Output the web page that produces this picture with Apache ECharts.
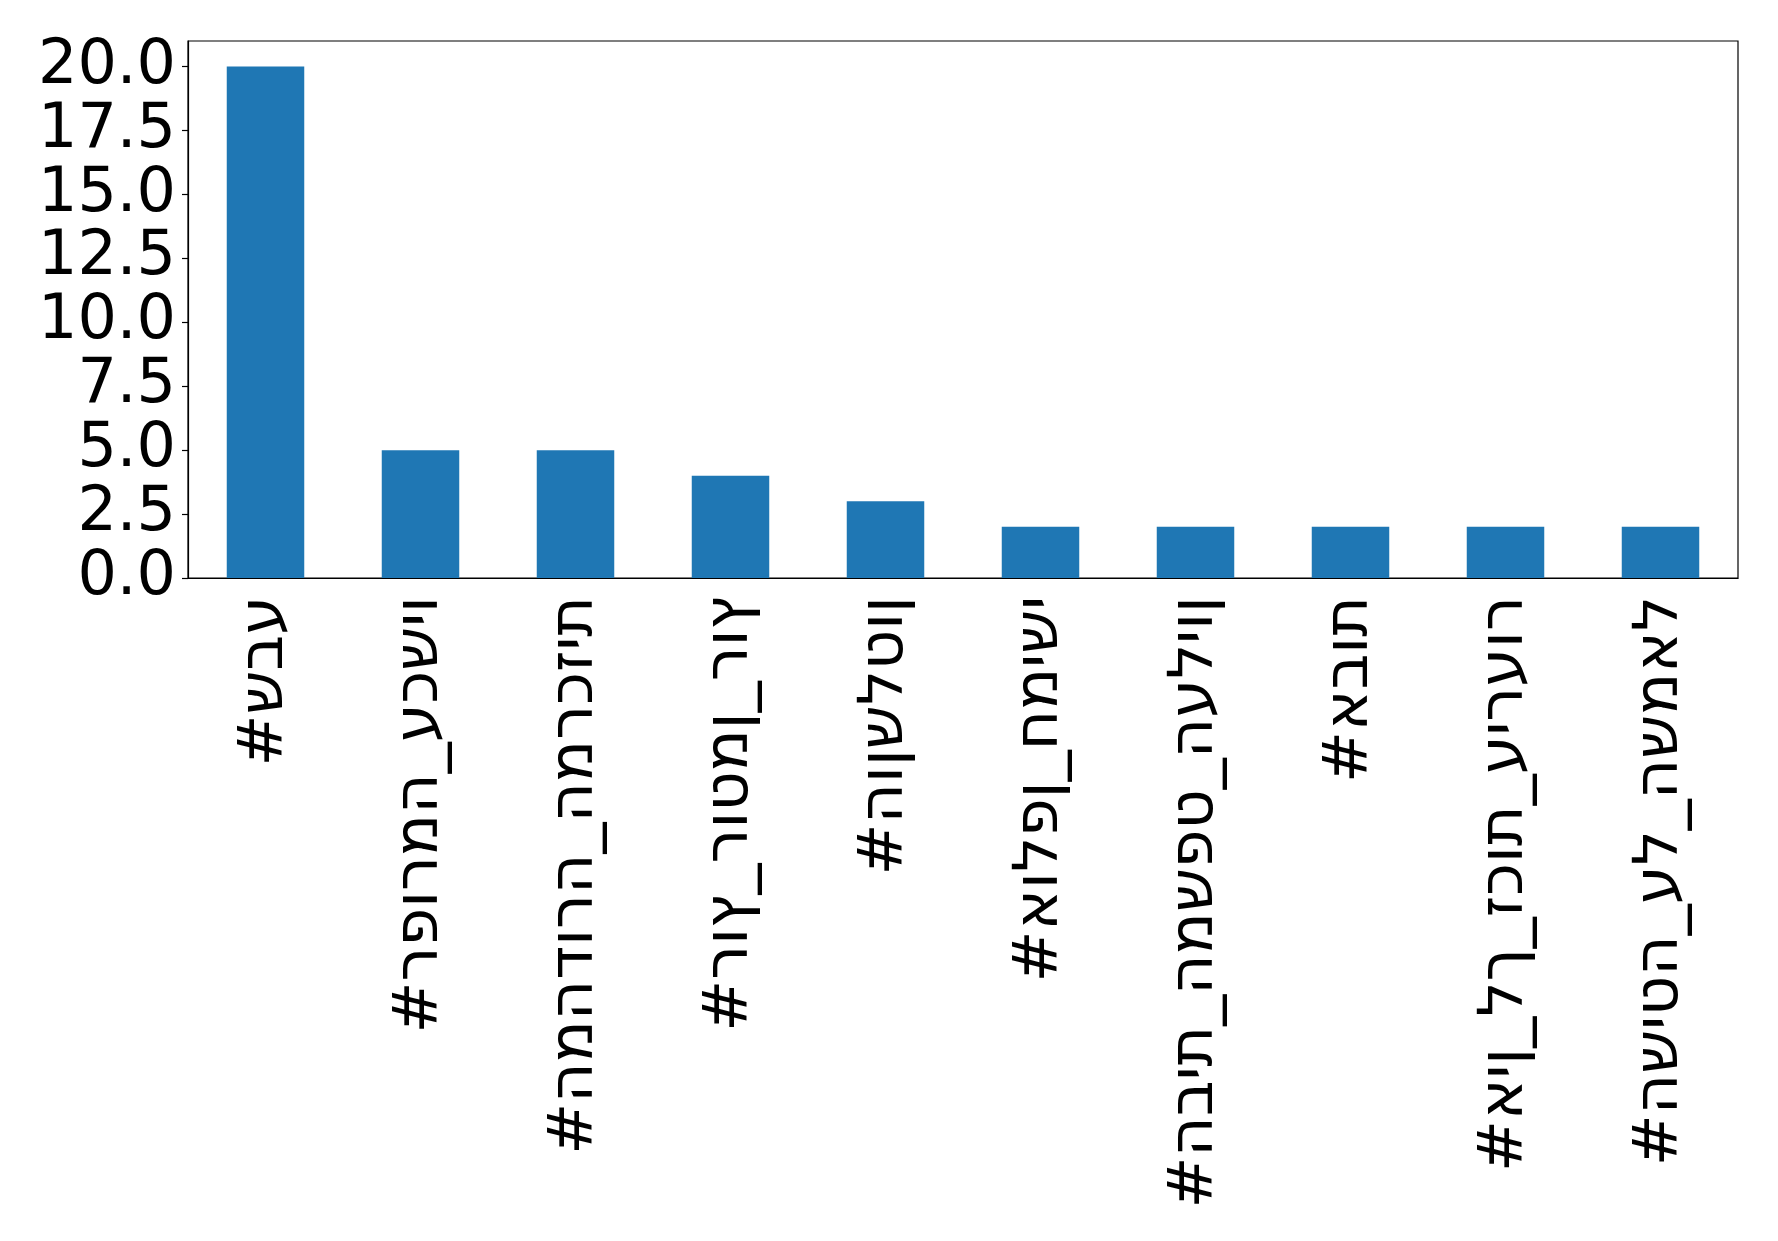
<!DOCTYPE html>
<html>
<head>
<meta charset="utf-8">
<script src="https://cdn.jsdelivr.net/npm/echarts@6/dist/echarts.min.js"></script>
<style>
html,body{margin:0;padding:0;background:#fff;}
#chart{width:1778px;height:1241px;}
</style>
</head>
<body>
<div id="chart"></div>
<script>
// Hashtags (logical order); matplotlib drew them without bidi reordering
const categories = [
  "#שבע",
  "#רפורמה_עכשיו",
  "#המהדורה_המרכזית",
  "#רוץ_רוטמן_רוץ",
  "#הוןשלטון",
  "#אולפן_חמישי",
  "#הבית_המשפט_העליון",
  "#אבות",
  "#אין_לך_זכות_עירעור",
  "#השיטה_על_השמאל"
];
const counts = [20, 5, 5, 4, 3, 2, 2, 2, 2, 2];
const yTicks = [0, 2.5, 5, 7.5, 10, 12.5, 15, 17.5, 20];
const yMax = 21;

const FONT = "DejaVu Sans";
const chart = echarts.init(document.getElementById('chart'), null, {renderer: 'canvas'});
chart.setOption({
  animation: false,
  backgroundColor: '#ffffff',
  grid: {
    left: 188, top: 41, right: 40, bottom: 663,
    show: true, borderColor: '#000', borderWidth: 1.2, backgroundColor: 'transparent'
  },
  xAxis: {
    type: 'category',
    data: categories,
    boundaryGap: true,
    axisLine: {lineStyle: {color: '#000', width: 1.2}},
    axisTick: {alignWithLabel: true, length: 6, lineStyle: {color: '#000', width: 1.2}},
    axisLabel: {
      rotate: 90,
      interval: 0,
      margin: 18,
      fontFamily: FONT,
      fontSize: 62,
      color: '#000',
      formatter: v => '\u202D' + v + '\u202C'
    }
  },
  yAxis: {
    type: 'value',
    min: 0,
    max: yMax,
    splitLine: {show: false},
    axisLine: {show: true, lineStyle: {color: '#000', width: 1.2}},
    axisTick: {show: true, length: 6, customValues: yTicks, lineStyle: {color: '#000', width: 1.2}},
    axisLabel: {
      customValues: yTicks,
      margin: 12,
      fontFamily: FONT,
      fontSize: 62,
      color: '#000',
      formatter: v => v.toFixed(1)
    }
  },
  series: [{
    type: 'bar',
    data: counts,
    barWidth: '50%',
    itemStyle: {color: '#1f77b4'}
  }]
});
</script>
</body>
</html>
